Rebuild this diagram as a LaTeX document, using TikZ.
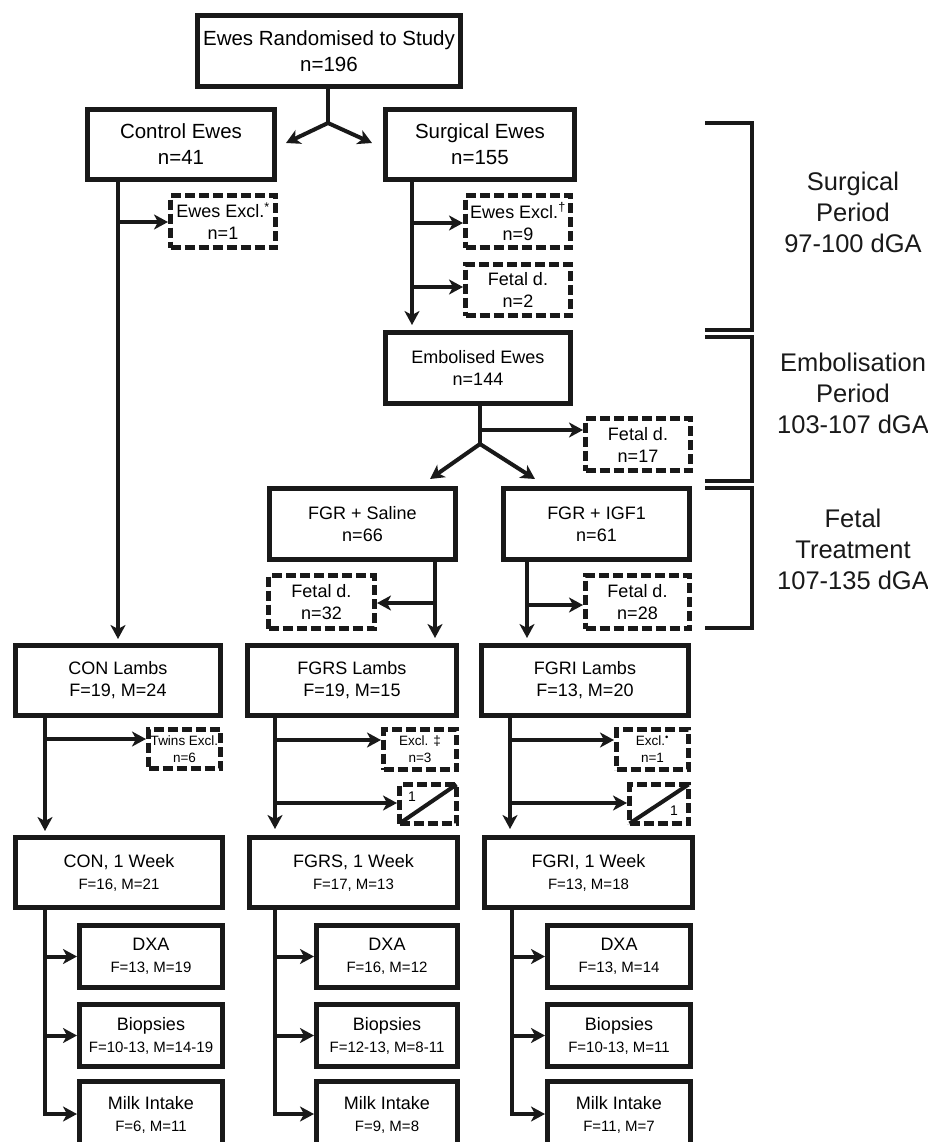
\documentclass[tikz,border=0pt]{standalone}
\usepackage{fontspec}
\setmainfont{Liberation Sans}
\usetikzlibrary{arrows.meta}
\tikzset{
  box/.style={draw=black!90, line width=5pt, fill=white, inner sep=0pt, align=center,
    font=\fontsize{18}{22}\selectfont},
  bigbox/.style={box, font=\fontsize{20.5}{26}\selectfont},
  dbox/.style={box, dash pattern=on 10pt off 4pt},
  smallbox/.style={dbox, font=\fontsize{13.5}{17}\selectfont},
  conn/.style={line width=4pt, draw=black!90},
  arr/.style={conn, -{Stealth[length=14pt,width=15pt,inset=4pt]}},
  period/.style={align=center, font=\fontsize{25.5}{31}\selectfont, text=black!90},
  bracket/.style={line width=4.5pt, draw=black!90},
}
\newcommand\bx[7]{\node[#2, minimum width={#5-#3-5}, minimum height={#6-#4-5}]
  (#1) at ({(#3+#5)/2},{(#4+#6)/2}) {#7};}
\newcommand\sub[1]{{\fontsize{15}{19}\selectfont #1}}
\begin{document}
\begin{tikzpicture}[x=1pt,y=-1pt]
\useasboundingbox (0,0) rectangle (928,1142);
\clip (0,0) rectangle (928,1142);
% top
\bx{top}{bigbox}{195}{13}{463}{89}{Ewes Randomised to Study\\n=196}
\bx{ctrl}{bigbox}{85}{107}{277}{182}{Control Ewes\\n=41}
\bx{surg}{bigbox}{383}{107}{577}{182}{Surgical Ewes\\n=155}
\bx{ex1}{dbox}{168}{193}{278}{250}{Ewes Excl.\textsuperscript{*}\\n=1}
\bx{ex2}{dbox}{463}{193}{573}{250}{Ewes Excl.\textsuperscript{†}\\n=9}
\bx{fd2}{dbox}{463}{262}{573}{318}{Fetal d.\\n=2}
\bx{emb}{box}{383}{330}{573}{406}{Embolised Ewes\\n=144}
\bx{fd17}{dbox}{583}{416}{693}{473}{Fetal d.\\n=17}
\bx{sal}{box}{267}{486}{458}{562}{FGR + Saline\\n=66}
\bx{igf}{box}{501}{486}{692}{562}{FGR + IGF1\\n=61}
\bx{fd32}{dbox}{266}{573}{377}{631}{Fetal d.\\n=32}
\bx{fd28}{dbox}{583}{573}{692}{631}{Fetal d.\\n=28}
% lambs
\bx{conl}{box}{13}{643}{223}{718}{CON Lambs\\F=19, M=24}
\bx{fgrsl}{box}{245}{643}{459}{718}{FGRS Lambs\\F=19, M=15}
\bx{fgril}{box}{479}{643}{691}{718}{FGRI Lambs\\F=13, M=20}
\bx{tw}{smallbox}{146}{727}{223}{771}{Twins Excl.\\n=6}
\bx{exs}{smallbox}{381}{727}{459}{772}{Excl. ‡\\n=3}
\bx{exi}{smallbox}{614}{727}{691}{772}{Excl.\textsuperscript{•}\\n=1}
\bx{sl1}{smallbox}{397}{782}{459}{826}{}
\bx{sl2}{smallbox}{627}{782}{691}{826}{}
\draw[conn] ([shift={(2.5,-2.5)}]sl1.south west) -- ([shift={(-2.5,2.5)}]sl1.north east);
\draw[conn] ([shift={(2.5,-2.5)}]sl2.south west) -- ([shift={(-2.5,2.5)}]sl2.north east);
\node[font=\fontsize{14}{17}\selectfont] (sl1t) at (412,797) {1};
\node[font=\fontsize{14}{17}\selectfont] (sl2t) at (674,811) {1};
% one week
\bx{con1}{box}{13}{835}{225}{910}{CON, 1 Week\\\sub{F=16, M=21}}
\bx{fgrs1}{box}{247}{835}{460}{910}{FGRS, 1 Week\\\sub{F=17, M=13}}
\bx{fgri1}{box}{482}{835}{695}{910}{FGRI, 1 Week\\\sub{F=13, M=18}}
\bx{dxac}{box}{77}{923}{225}{990}{DXA\\\sub{F=13, M=19}}
\bx{bioc}{box}{77}{1002}{225}{1069}{Biopsies\\\sub{F=10-13, M=14-19}}
\bx{milkc}{box}{77}{1079}{225}{1150}{Milk Intake\\\sub{F=6, M=11}}
\bx{dxas}{box}{314}{923}{460}{990}{DXA\\\sub{F=16, M=12}}
\bx{bios}{box}{314}{1002}{460}{1069}{Biopsies\\\sub{F=12-13, M=8-11}}
\bx{milks}{box}{314}{1079}{460}{1150}{Milk Intake\\\sub{F=9, M=8}}
\bx{dxai}{box}{545}{923}{693}{990}{DXA\\\sub{F=13, M=14}}
\bx{bioi}{box}{545}{1002}{693}{1069}{Biopsies\\\sub{F=10-13, M=11}}
\bx{milki}{box}{545}{1079}{693}{1150}{Milk Intake\\\sub{F=11, M=7}}
% connectors: top fork
\coordinate (j0) at (328,123);
\coordinate (t1) at (286,143);
\coordinate (t2) at (372,143);
\draw[conn] (top.south -| j0) -- (j0);
\draw[arr] (j0) -- (t1);
\draw[arr] (j0) -- (t2);
% control
\coordinate (c1) at (118,222);
\draw[arr, shorten >=4pt] (ctrl.south -| c1) -- (conl.north -| c1);
\draw[arr] (c1) -- (c1 -| ex1.west);
% surgical
\coordinate (s1) at (412,223);
\coordinate (s2) at (412,287);
\draw[arr, shorten >=5pt] (surg.south -| s1) -- (emb.north -| s1);
\draw[arr] (s1) -- (s1 -| ex2.west);
\draw[arr] (s2) -- (s2 -| fd2.west);
% embolised
\coordinate (e1) at (480,430);
\coordinate (e2) at (480,444);
\coordinate (e3) at (430,479);
\coordinate (e4) at (535,479);
\draw[conn] (emb.south -| e2) -- (e2);
\draw[arr] (e1) -- (e1 -| fd17.west);
\draw[arr] (e2) -- (e3);
\draw[arr] (e2) -- (e4);
% saline / igf
\coordinate (sa1) at (435,603);
\draw[arr, shorten >=5pt] (sal.south -| sa1) -- (fgrsl.north -| sa1);
\draw[arr] (sa1) -- (sa1 -| fd32.east);
\coordinate (ig1) at (527,605);
\draw[arr, shorten >=5pt] (igf.south -| ig1) -- (fgril.north -| ig1);
\draw[arr] (ig1) -- (ig1 -| fd28.west);
% lambs
\coordinate (cl1) at (45,739);
\draw[arr, shorten >=4pt] (conl.south -| cl1) -- (con1.north -| cl1);
\draw[arr] (cl1) -- (cl1 -| tw.west);
\coordinate (fs1) at (275,740);
\coordinate (fs2) at (275,803);
\draw[arr, shorten >=6pt] (fgrsl.south -| fs1) -- (fgrs1.north -| fs1);
\draw[arr] (fs1) -- (fs1 -| exs.west);
\draw[arr] (fs2) -- (fs2 -| sl1.west);
\coordinate (fi1) at (510,740);
\coordinate (fi2) at (510,803);
\draw[arr, shorten >=6pt] (fgril.south -| fi1) -- (fgri1.north -| fi1);
\draw[arr] (fi1) -- (fi1 -| exi.west);
\draw[arr] (fi2) -- (fi2 -| sl2.west);
% one week branches
\coordinate (cb1) at (45,956.5);
\coordinate (cb2) at (45,1035.5);
\coordinate (cb3) at (45,1114);
\draw[arr] (con1.south -| cb3) -- (cb3) -- (cb3 -| milkc.west);
\draw[arr] (cb1) -- (cb1 -| dxac.west);
\draw[arr] (cb2) -- (cb2 -| bioc.west);
\coordinate (sb1) at (275,956.5);
\coordinate (sb2) at (275,1035.5);
\coordinate (sb3) at (275,1114);
\draw[arr] (fgrs1.south -| sb3) -- (sb3) -- (sb3 -| milks.west);
\draw[arr] (sb1) -- (sb1 -| dxas.west);
\draw[arr] (sb2) -- (sb2 -| bios.west);
\coordinate (ib1) at (512,956.5);
\coordinate (ib2) at (512,1035.5);
\coordinate (ib3) at (512,1114);
\draw[arr] (fgri1.south -| ib3) -- (ib3) -- (ib3 -| milki.west);
\draw[arr] (ib1) -- (ib1 -| dxai.west);
\draw[arr] (ib2) -- (ib2 -| bioi.west);
% brackets
\draw[bracket] (705,123) -- (752,123) -- (752,330) -- (705,330);
\draw[bracket] (705,337) -- (752,337) -- (752,481) -- (705,481);
\draw[bracket] (705,488) -- (752,488) -- (752,628) -- (705,628);
\node[period] (lab1) at (853,212) {Surgical\\Period\\97-100 dGA};
\node[period] (lab2) at (853,393) {Embolisation\\Period\\103-107 dGA};
\node[period] (lab3) at (853,549) {Fetal\\Treatment\\107-135 dGA};
\end{tikzpicture}
\end{document}
